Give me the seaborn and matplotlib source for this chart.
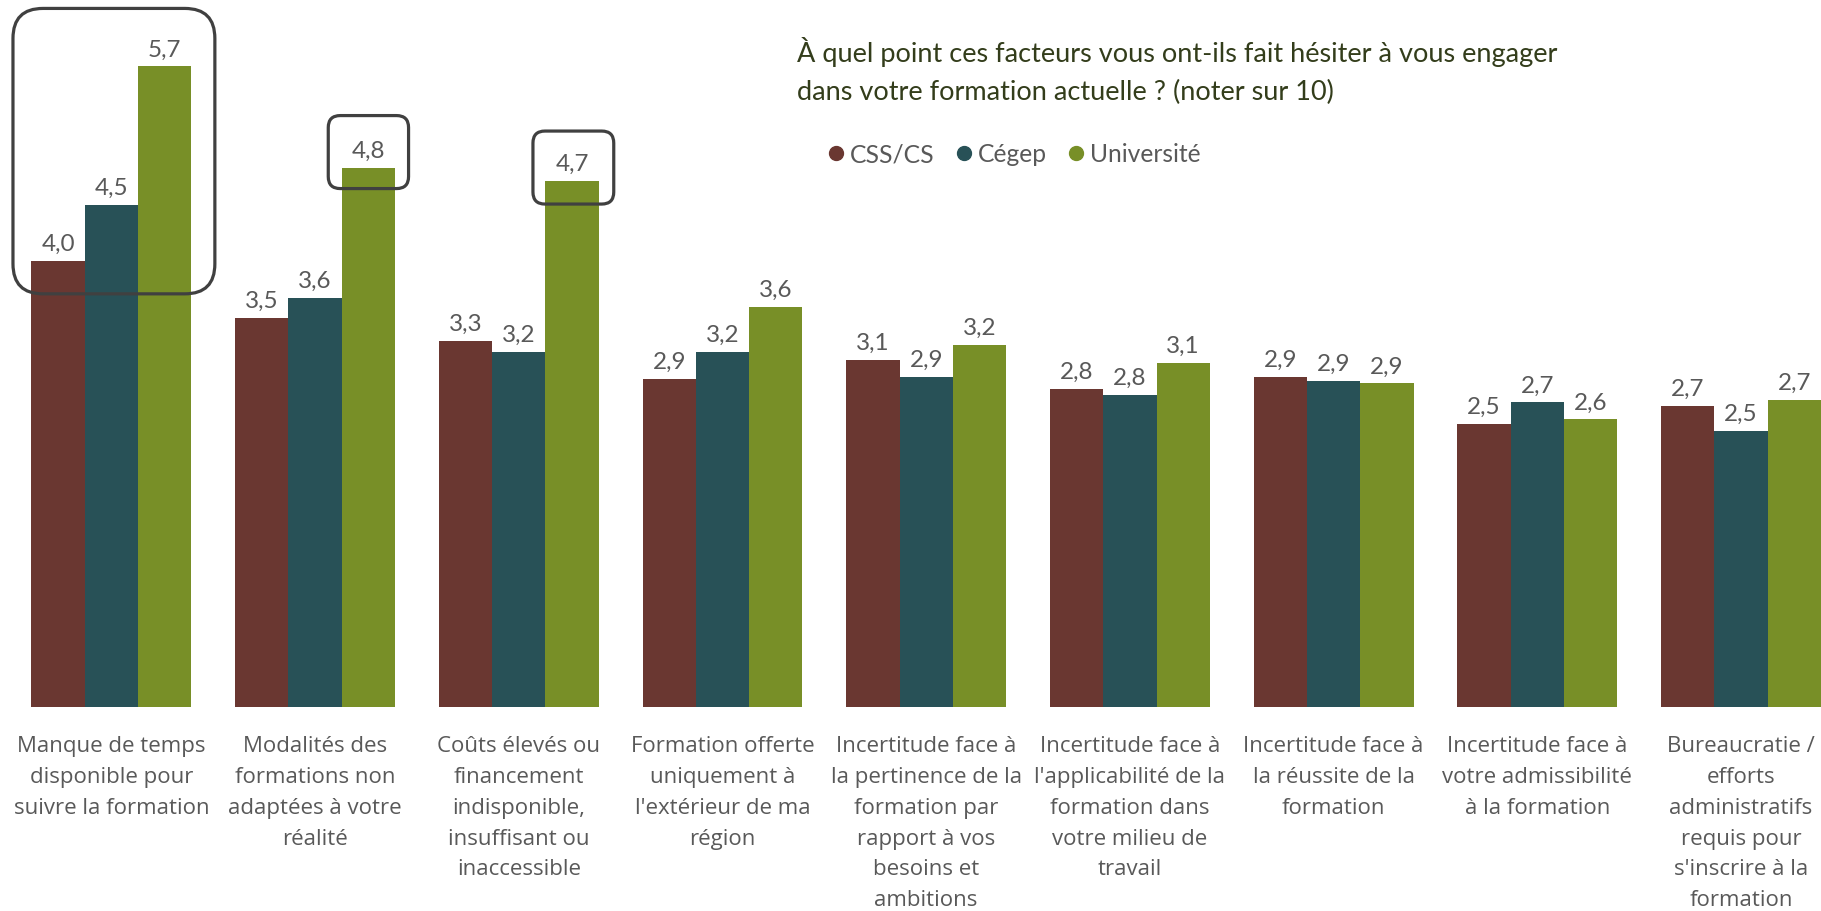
import numpy as np
import pandas as pd
import matplotlib
matplotlib.use('Agg')
import matplotlib.pyplot as plt
import seaborn as sns
from matplotlib.patches import FancyBboxPatch
from matplotlib.lines import Line2D
from matplotlib.transforms import IdentityTransform

# data (scores out of 10)
categories = [
    "Manque de temps\ndisponible pour\nsuivre la formation",
    "Modalités des\nformations non\nadaptées à votre\nréalité",
    "Coûts élevés ou\nfinancement\nindisponible,\ninsuffisant ou\ninaccessible",
    "Formation offerte\nuniquement à\nl'extérieur de ma\nrégion",
    "Incertitude face à\nla pertinence de la\nformation par\nrapport à vos\nbesoins et\nambitions",
    "Incertitude face à\nl'applicabilité de la\nformation dans\nvotre milieu de\ntravail",
    "Incertitude face à\nla réussite de la\nformation",
    "Incertitude face à\nvotre admissibilité\nà la formation",
    "Bureaucratie /\nefforts\nadministratifs\nrequis pour\ns'inscrire à la\nformation",
]
groups = ['CSS/CS', 'Cégep', 'Université']
css_cs = [3.97, 3.46, 3.26, 2.92, 3.09, 2.83, 2.94, 2.52, 2.68]
cegep = [4.47, 3.64, 3.16, 3.16, 2.94, 2.78, 2.90, 2.71, 2.46]
universite = [5.70, 4.80, 4.68, 3.56, 3.22, 3.06, 2.88, 2.56, 2.73]
colors = ['#6A3731', '#285157', '#788F27']

title = ("À quel point ces facteurs vous ont-ils fait hésiter à vous engager\n"
         "dans votre formation actuelle ? (noter sur 10)")

df = pd.DataFrame({
    'facteur': categories * 3,
    'groupe': np.repeat(groups, len(categories)),
    'note': css_cs + cegep + universite,
})

sns.set_theme(style='white')
plt.rcParams['font.family'] = ['Open Sans', 'DejaVu Sans']

W, H = 1821, 912
fig = plt.figure(figsize=(W / 100, H / 100), dpi=100)
ax = fig.add_axes([0, 204 / H, 1, 708 / H])

sns.barplot(data=df, x='facteur', y='note', hue='groupe', palette=colors,
            saturation=1, width=0.785, errorbar=None, linewidth=0, ax=ax)

ax.set_xlim(-0.547, 8.393)
ax.set_ylim(0, 6.30)
ax.get_legend().remove()
ax.set_xlabel('')
ax.set_ylabel('')
ax.set_yticks([])
sns.despine(ax=ax, left=True, bottom=True)
ax.tick_params(axis='x', length=0, pad=20, labelsize=16, labelcolor='#595959')
for t in ax.get_xticklabels():
    t.set_linespacing(1.62)

# value labels with decimal comma
for cont in ax.containers:
    ax.bar_label(cont, labels=[f"{v:.1f}".replace('.', ',') for v in cont.datavalues],
                 padding=5, fontsize=17.5, color='#595959', family='Lato')

# title and legend
fig.text(797 / W, 1 - 37 / H, title, ha='left', va='top', fontsize=19.5,
         family='Lato', color='#333D1B', linespacing=1.62)
handles = [Line2D([], [], marker='o', linestyle='', markersize=10, color=c) for c in colors]
fig.legend(handles, groups, loc='center left', bbox_to_anchor=(829 / W, 1 - 155 / H),
           ncol=3, frameon=False, handlelength=0.6, handletextpad=0.25,
           columnspacing=0.9, borderpad=0, borderaxespad=0,
           prop={'family': 'Lato', 'size': 17.7}, labelcolor='#595959')

# rounded highlight boxes around the top scores
bw = 0.785 / 3
def highlight(idx, hues, pad_l, pad_r, pad_b, pad_t, radius):
    tops = []
    for h in hues:
        vals = [css_cs, cegep, universite][h]
        tops.append(vals[idx])
    x0 = idx + (hues[0] - 1) * bw - bw / 2
    x1 = idx + (hues[-1] - 1) * bw + bw / 2
    (px0, py_lo), = ax.transData.transform([(x0, min(tops))])
    (px1, py_hi), = ax.transData.transform([(x1, max(tops))])
    left, right = px0 - pad_l, px1 + pad_r
    bottom, top = py_lo - pad_b, py_hi + pad_t
    box = FancyBboxPatch((left, bottom), right - left, top - bottom,
                         boxstyle=f"round,pad=0,rounding_size={radius}",
                         fill=False, edgecolor='#404040', linewidth=2.3,
                         transform=IdentityTransform(), zorder=5)
    fig.add_artist(box)

highlight(0, [0, 1, 2], 18.5, 23.5, 33, 58, 30)
highlight(1, [2], 13.5, 13.5, 21, 52, 12)
highlight(2, [2], 12.5, 15, 23, 50, 12)

fig.savefig('out.png', dpi=100)
